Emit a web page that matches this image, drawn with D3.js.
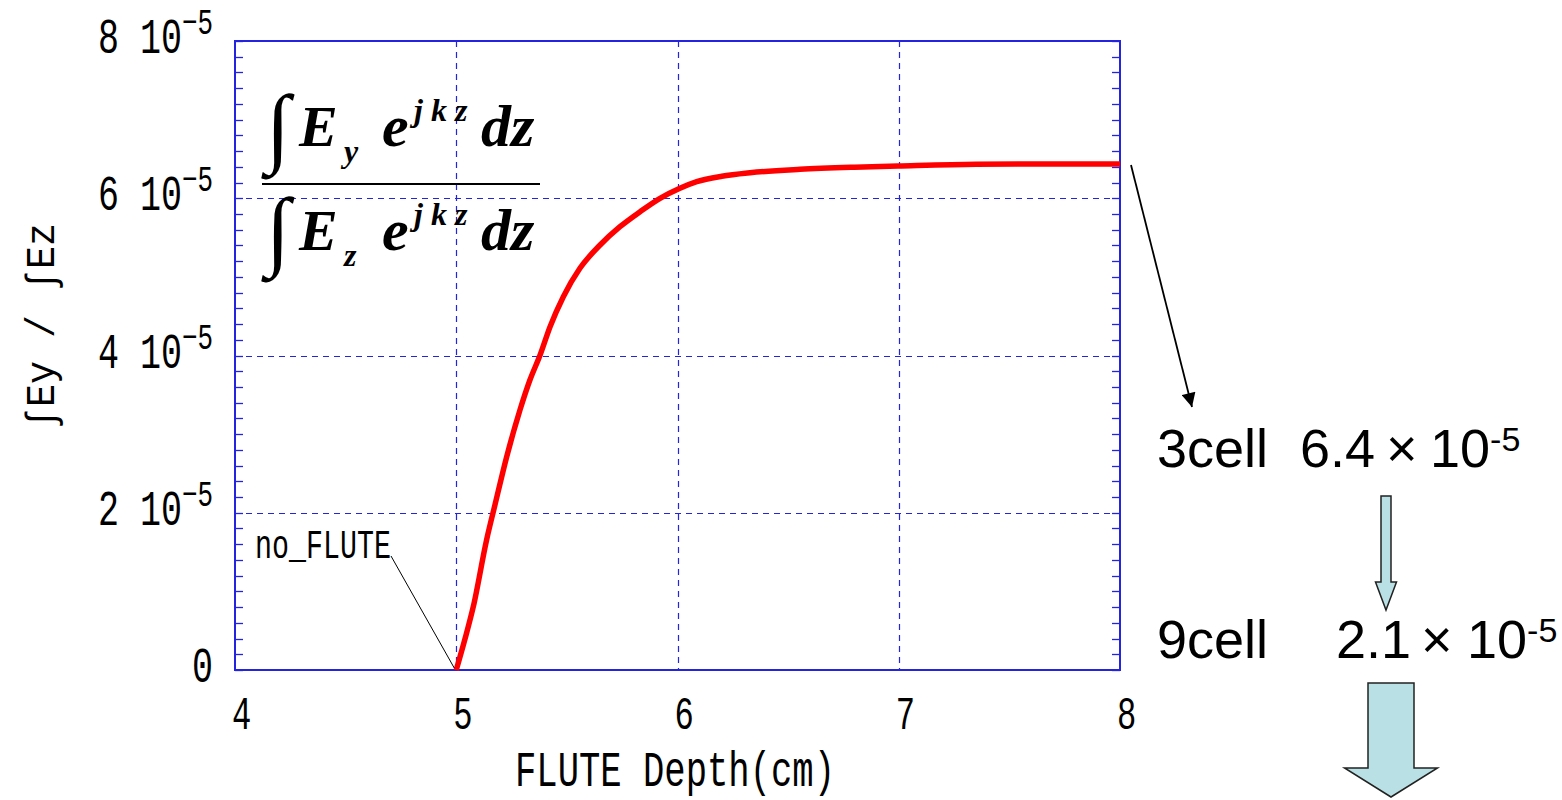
<!DOCTYPE html>
<html>
<head>
<meta charset="utf-8">
<script src="https://cdn.jsdelivr.net/npm/d3@7"></script>
<style>
  html, body { margin: 0; padding: 0; background: #fff; }
  svg { display: block; }
</style>
</head>
<body>
<svg id="chart" width="1562" height="800"></svg>
<script>
// FLUTE depth (cm) versus the ratio of the integrated transverse field to the
// integrated longitudinal field, values in units of 10^-5.
const depthCm = [5.0, 5.04, 5.077, 5.137, 5.175, 5.228, 5.288, 5.333, 5.379, 5.424,
                 5.484, 5.559, 5.65, 5.74, 5.831, 5.921, 6.011, 6.087, 6.2, 6.328,
                 6.554, 6.8, 6.997, 7.349, 7.7, 8.0];
const ratioE5 = [0.0, 0.40, 0.805, 1.653, 2.10, 2.713, 3.307, 3.688, 4.006, 4.366,
                 4.748, 5.109, 5.405, 5.638, 5.829, 5.999, 6.127, 6.211, 6.28, 6.325,
                 6.368, 6.395, 6.41, 6.432, 6.436, 6.436];
const xTicks = [4, 5, 6, 7, 8];
const yTicks = [0, 2, 4, 6, 8];
const yTickMantissa = ["0", "2", "4", "6", "8"];
const yTickExponent = ["", "\u22125", "\u22125", "\u22125", "\u22125"];
const xGrid = [5, 6, 7];
const yGrid = [2, 4, 6];

const svg = d3.select("#chart");
const plot = { left: 235, right: 1120, top: 41, bottom: 670 };

const x = d3.scaleLinear().domain([4, 8]).range([plot.left, plot.right]);
const y = d3.scaleLinear().domain([0, 8]).range([plot.bottom, plot.top]);
const px = v => Math.round(v) + 0.5;

const axisBlue = "#2424e0";
const monoFont = "'Liberation Mono', 'DejaVu Sans Mono', monospace";

// dashed grid
svg.append("g").selectAll("line").data(xGrid).join("line")
  .attr("x1", d => px(x(d))).attr("x2", d => px(x(d)))
  .attr("y1", plot.top).attr("y2", plot.bottom)
  .attr("stroke", axisBlue).attr("stroke-width", 1.2).attr("stroke-dasharray", "6,5");
svg.append("g").selectAll("line").data(yGrid).join("line")
  .attr("x1", plot.left).attr("x2", plot.right)
  .attr("y1", d => px(y(d))).attr("y2", d => px(y(d)))
  .attr("stroke", axisBlue).attr("stroke-width", 1.2).attr("stroke-dasharray", "6,5");

// inward minor ticks on the left and right edges every 0.2
const minor = d3.range(0, 8.0001, 0.2);
const tickG = svg.append("g").attr("stroke", axisBlue).attr("stroke-width", 1.3);
tickG.selectAll("line.l").data(minor).join("line").attr("class", "l")
  .attr("x1", plot.left).attr("x2", plot.left + 8)
  .attr("y1", d => px(y(d))).attr("y2", d => px(y(d)));
tickG.selectAll("line.r").data(minor).join("line").attr("class", "r")
  .attr("x1", plot.right - 8).attr("x2", plot.right)
  .attr("y1", d => px(y(d))).attr("y2", d => px(y(d)));

// frame
svg.append("rect")
  .attr("x", plot.left).attr("y", plot.top)
  .attr("width", plot.right - plot.left).attr("height", plot.bottom - plot.top)
  .attr("fill", "none").attr("stroke", axisBlue).attr("stroke-width", 2);

// x tick labels
svg.append("g").selectAll("text").data(xTicks).join("text")
  .attr("transform", d => `translate(${x(d) - 3},729) scale(0.7,1)`)
  .attr("font-family", monoFont).attr("font-size", 46).attr("fill", "#000")
  .text(d => d);

// y tick labels: mantissa, then 10 with a raised exponent
yTicks.forEach((v, i) => {
  const t = svg.append("text")
    .attr("transform", `translate(213,${y(v) + 12}) scale(0.7,1)`)
    .attr("text-anchor", "end")
    .attr("font-family", monoFont).attr("font-size", 50).attr("fill", "#000");
  if (yTickExponent[i]) {
    t.append("tspan").text(yTickMantissa[i] + " 10");
    t.append("tspan").attr("dy", -19).attr("font-size", 37).text(yTickExponent[i]);
  } else {
    t.append("tspan").text(yTickMantissa[i]);
  }
});

// axis titles
svg.append("text")
  .attr("x", 515).attr("y", 786)
  .attr("font-family", monoFont).attr("font-size", 50)
  .attr("textLength", 320).attr("lengthAdjust", "spacingAndGlyphs")
  .text("FLUTE Depth(cm)");
svg.append("text")
  .attr("transform", "translate(54,430) rotate(-90)")
  .attr("font-family", monoFont).attr("font-size", 40)
  .attr("textLength", 207).attr("lengthAdjust", "spacingAndGlyphs")
  .text("\u222BEy / \u222BEz");

// the curve
const pts = depthCm.map((d, i) => [d, ratioE5[i]]);
svg.append("path")
  .datum(pts)
  .attr("fill", "none").attr("stroke", "#ff0000").attr("stroke-width", 5.5)
  .attr("stroke-linejoin", "round")
  .attr("d", d3.line().x(d => x(d[0])).y(d => y(d[1])).curve(d3.curveMonotoneX));

// no_FLUTE callout
svg.append("text")
  .attr("x", 255).attr("y", 558)
  .attr("font-family", monoFont).attr("font-size", 40)
  .attr("textLength", 136).attr("lengthAdjust", "spacingAndGlyphs")
  .text("no_FLUTE");
svg.append("line")
  .attr("x1", 391).attr("y1", 556).attr("x2", x(depthCm[0]) - 2).attr("y2", y(ratioE5[0]) - 2)
  .attr("stroke", "#000").attr("stroke-width", 1);

// ratio formula
const serif = "'Liberation Serif', 'Times New Roman', serif";
const f = svg.append("g").attr("font-family", serif).attr("font-weight", "bold")
  .attr("font-style", "italic").attr("fill", "#000");
function fracRow(base, sub, intBase) {
  f.append("text").attr("x", 266).attr("y", intBase)
    .attr("font-size", 88).attr("font-style", "normal").text("\u222B");
  f.append("text").attr("x", 299).attr("y", base).attr("font-size", 58).text("E");
  f.append("text").attr("x", 344).attr("y", base + 16).attr("font-size", 32).text(sub);
  f.append("text").attr("x", 382).attr("y", base).attr("font-size", 60).text("e");
  f.append("text").attr("x", 414).attr("y", base - 25).attr("font-size", 32)
    .attr("xml:space", "preserve").text("j k z");
  f.append("text").attr("x", 481).attr("y", base).attr("font-size", 60).text("dz");
}
fracRow(146, "y", 156);
fracRow(250, "z", 259);
svg.append("line").attr("x1", 262).attr("x2", 540).attr("y1", 184).attr("y2", 184)
  .attr("stroke", "#000").attr("stroke-width", 2);

// right-hand notes
const sans = "'Liberation Sans', Arial, sans-serif";
const notes = svg.append("g").attr("font-family", sans).attr("fill", "#000").attr("font-size", 54);
function note(label, mant, xMant, xTimes, xTen, base) {
  notes.append("text").attr("x", 1157).attr("y", base).text(label);
  notes.append("text").attr("x", xMant).attr("y", base).text(mant);
  notes.append("text").attr("x", xTimes).attr("y", base).text("\u00D7");
  const t = notes.append("text").attr("x", xTen).attr("y", base);
  t.append("tspan").text("10");
  t.append("tspan").attr("dy", -16).attr("font-size", 34).text("-5");
}
note("3cell", "6.4", 1300, 1386, 1430, 467);
note("9cell", "2.1", 1336, 1421, 1467, 658);

// pointer from the plateau to the 3cell note
const defs = svg.append("defs");
defs.append("marker").attr("id", "head").attr("viewBox", "0 0 10 10")
  .attr("refX", 10).attr("refY", 5).attr("markerWidth", 16).attr("markerHeight", 14)
  .attr("markerUnits", "userSpaceOnUse").attr("orient", "auto")
  .append("path").attr("d", "M0,0 L10,5 L0,10 z").attr("fill", "#000");
svg.append("line").attr("x1", 1131).attr("y1", 165).attr("x2", 1192).attr("y2", 407)
  .attr("stroke", "#000").attr("stroke-width", 1.8).attr("marker-end", "url(#head)");

// block arrows
const arrowFill = "#b9e0e4";
function blockArrow(cx, top, shaftW, headW, headTop, tip) {
  const p = d3.path();
  p.moveTo(cx - shaftW / 2, top);
  p.lineTo(cx + shaftW / 2, top);
  p.lineTo(cx + shaftW / 2, headTop);
  p.lineTo(cx + headW / 2, headTop);
  p.lineTo(cx, tip);
  p.lineTo(cx - headW / 2, headTop);
  p.lineTo(cx - shaftW / 2, headTop);
  p.closePath();
  svg.append("path").attr("d", p.toString())
    .attr("fill", arrowFill).attr("stroke", "#222").attr("stroke-width", 1.5);
}
blockArrow(1386, 496, 10, 21, 582, 610);
blockArrow(1391, 683, 46, 93, 768, 797);
</script>
</body>
</html>
